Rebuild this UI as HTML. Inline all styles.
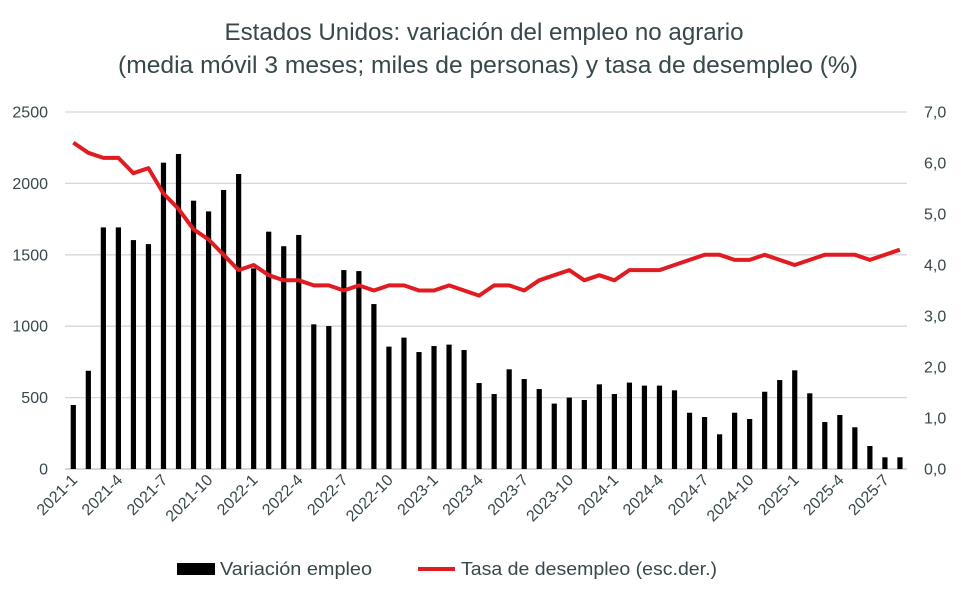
<!DOCTYPE html>
<html><head><meta charset="utf-8">
<style>
html,body{margin:0;padding:0;background:#fff;}
svg{display:block;font-family:"Liberation Sans",sans-serif;}
</style></head>
<body>
<svg id="c" width="970" height="597" viewBox="0 0 970 597" xmlns="http://www.w3.org/2000/svg">
<rect width="970" height="597" fill="#fff"/>
<text x="484" y="40" text-anchor="middle" font-size="24" fill="#37474a" textLength="519" lengthAdjust="spacingAndGlyphs">Estados Unidos: variación del empleo no agrario</text>
<text x="488" y="73" text-anchor="middle" font-size="24" fill="#37474a" textLength="740" lengthAdjust="spacingAndGlyphs">(media móvil 3 meses; miles de personas) y tasa de desempleo (%)</text>
<g id="grid" stroke="#d0d0d0" stroke-width="1.3"></g>
<g id="ylab" font-size="16" fill="#37474a"></g>
<g id="bars" fill="#000"></g>
<polyline id="line" fill="none" stroke="#e01b22" stroke-width="4" stroke-linejoin="round"/>
<g id="xlab" font-size="16" fill="#37474a"></g>
<rect x="177" y="563" width="38" height="12" fill="#000"/>
<text x="220" y="575" font-size="18" fill="#37474a" textLength="152" lengthAdjust="spacingAndGlyphs">Variación empleo</text>
<line x1="418" y1="569" x2="455" y2="569" stroke="#e01b22" stroke-width="4"/>
<text x="461" y="575" font-size="18" fill="#37474a" textLength="256" lengthAdjust="spacingAndGlyphs">Tasa de desempleo (esc.der.)</text>
</svg>
<script>
var NS="http://www.w3.org/2000/svg";
function el(t,a,p,txt){var e=document.createElementNS(NS,t);for(var k in a)e.setAttribute(k,a[k]);if(txt!==undefined)e.textContent=txt;document.getElementById(p).appendChild(e);return e;}
var y0=469,sc=357/2500,rs=357/7;
for(var i=0;i<=5;i++){var v=i*500,y=y0-v*sc;
 el("line",{x1:65,x2:907,y1:y,y2:y,stroke:i==0?"#bdbdbd":"#d6d6d6"},"grid");
 el("text",{x:48,y:y+5.5,"text-anchor":"end"},"ylab",String(v));}
for(var i=0;i<=7;i++){var y=y0-i*rs;el("text",{x:924,y:y+5.5},"ylab",i+",0");}
var b=[448,688,1692,1692,1603,1575,2145,2206,1879,1804,1954,2066,1405,1662,1560,1639,1013,1001,1393,1386,1155,857,920,819,861,871,833,602,525,698,630,560,458,500,483,593,525,605,584,584,551,394,364,243,394,350,541,623,691,530,329,378,292,161,82,82];
var u=[6.4,6.2,6.1,6.1,5.8,5.9,5.4,5.1,4.7,4.5,4.2,3.9,4.0,3.8,3.7,3.7,3.6,3.6,3.5,3.6,3.5,3.6,3.6,3.5,3.5,3.6,3.5,3.4,3.6,3.6,3.5,3.7,3.8,3.9,3.7,3.8,3.7,3.9,3.9,3.9,4.0,4.1,4.2,4.2,4.1,4.1,4.2,4.1,4.0,4.1,4.2,4.2,4.2,4.1,4.2,4.3];
var pts=[];
for(var i=0;i<56;i++){var x=73.3+i*15.03;
 var h=b[i]*sc;el("rect",{x:x-2.6,y:y0-h,width:5.2,height:h},"bars");
 pts.push(x.toFixed(1)+","+(y0-u[i]*rs).toFixed(1));
 if(i%3==0){var yr=2021+Math.floor(i/12),m=i%12+1;
  el("text",{x:0,y:0,"text-anchor":"end",transform:"translate("+(x+5)+",481) rotate(-45)"},"xlab",yr+"-"+m);}
}
document.getElementById("line").setAttribute("points",pts.join(" "));
</script>
</body></html>
